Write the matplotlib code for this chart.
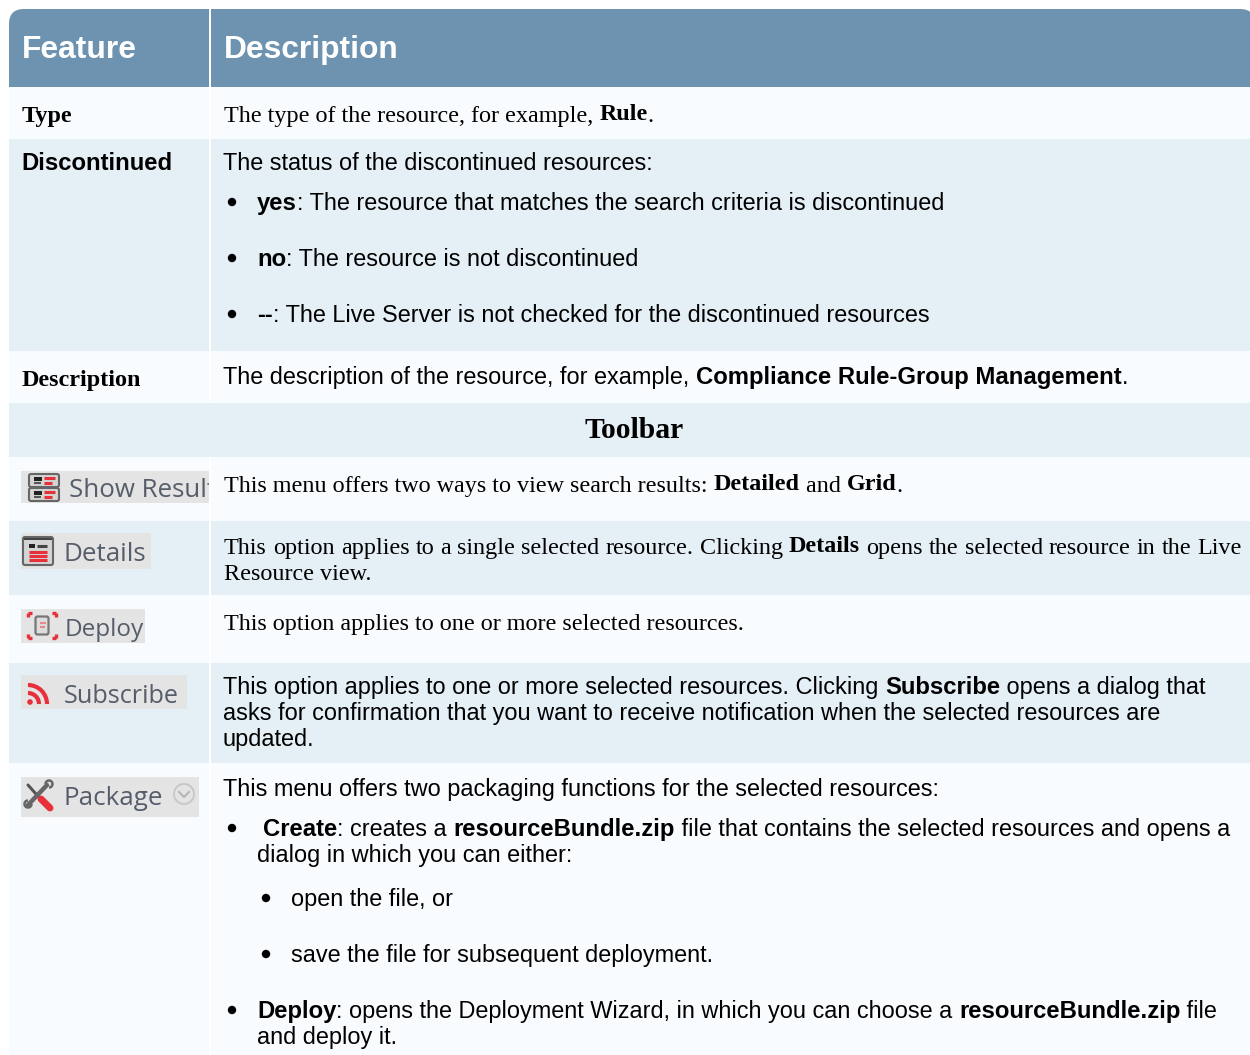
import matplotlib

matplotlib.use("Agg")
import matplotlib.pyplot as plt
from matplotlib.patches import Arc, Circle, FancyBboxPatch, Rectangle

W, H = 1250, 1055
SANS = "Liberation Sans"
SERIF = "Liberation Serif"
ICON_FONT = "Open Sans"

HEADER_COLOR = "#6D93B0"
LIGHT = "#F8FCFF"
BAND = "#E5EFF6"
DIVIDER = "#FFFFFF"
CHIP = "#E4E4E4"
CHIP_TEXT = "#555D6A"
RED = "#E8303A"
DARK = "#4A4A4A"

# font sizes by family and weight, measured against the reference line widths
SIZES = {
    (SANS, False): 16.88,
    (SANS, True): 17.2,
    (SERIF, False): 17.36,
    (SERIF, True): 17.4,
}

# row edges, top to bottom, with fill
row_edges = [87, 139, 351, 403, 457, 521, 595, 663, 763, 1055]
row_fills = [LIGHT, BAND, LIGHT, BAND, LIGHT, BAND, LIGHT, BAND, LIGHT]

headers = ["Feature", "Description"]

# each line: baseline, x, font, runs of (text, bold, raise)
lines = [
    (122, 22, SERIF, [("Type", True, 0)]),
    (122, 224, SERIF, [("The type of the resource, for example, ", False, 0), ("Rule", True, 2), (".", False, 0)]),
    (170, 21, SANS, [("Discontinued", True, 0)]),
    (170, 223, SANS, [("The status of the discontinued resources:", False, 0)]),
    (210, 257, SANS, [("yes", True, 0), (": The resource that matches the search criteria is discontinued", False, 0)]),
    (266, 257, SANS, [("no", True, 0), (": The resource is not discontinued", False, 0)]),
    (322, 257, SANS, [("--", True, 0), (": The Live Server is not checked for the discontinued resources", False, 0)]),
    (386, 22, SERIF, [("Description", True, 0)]),
    (384, 223, SANS, [("The description of the resource, for example, ", False, 0), ("Compliance Rule-Group Management", True, 0), (".", False, 0)]),
    (492, 224, SERIF, [("This menu offers two ways to view search results: ", False, 0), ("Detailed", True, 2), (" and ", False, 0), ("Grid", True, 2), (".", False, 0)]),
    (580, 224, SERIF, [("Resource view.", False, 0)]),
    (630, 224, SERIF, [("This option applies to one or more selected resources.", False, 0)]),
    (694, 223, SANS, [("This option applies to one or more selected resources. Clicking ", False, 0), ("Subscribe", True, 0), (" opens a dialog that", False, 0)]),
    (720, 223, SANS, [("asks for confirmation that you want to receive notification when the selected resources are", False, 0)]),
    (746, 223, SANS, [("updated.", False, 0)]),
    (796, 223, SANS, [("This menu offers two packaging functions for the selected resources:", False, 0)]),
    (836, 263, SANS, [("Create", True, 0), (": creates a ", False, 0), ("resourceBundle.zip", True, 0), (" file that contains the selected resources and opens a", False, 0)]),
    (862, 257, SANS, [("dialog in which you can either:", False, 0)]),
    (906, 291, SANS, [("open the file, or", False, 0)]),
    (962, 291, SANS, [("save the file for subsequent deployment.", False, 0)]),
    (1018, 257, SANS, [("Deploy", True, 0), (": opens the Deployment Wizard, in which you can choose a ", False, 0), ("resourceBundle.zip", True, 0), (" file", False, 0)]),
    (1044, 257, SANS, [("and deploy it.", False, 0)]),
]

# justified line in the Details row
justified_line = (554, 224, 1242, SERIF, [("This option applies to a single selected resource. Clicking", False, 0), ("Details", True, 2), ("opens the selected resource in the Live", False, 0)])

# bullets: x, y, radius
bullets = [(232, 202, 4.2), (232, 258, 4.2), (232, 314, 4.2), (232, 828, 4.2), (266, 898, 4.2), (266, 954, 4.2), (232, 1010, 4.2)]

# toolbar chips: label, chip left/right/top/bottom, label x, baseline, size
chips = [
    ("Show Results", 21, 209, 471, 503, 69, 497, 18.6),
    ("Details", 21, 151, 533, 569, 64, 561, 18.7),
    ("Deploy", 21, 145, 609, 643, 65, 636, 17.5),
    ("Subscribe", 21, 187, 675, 709, 64, 703, 18.2),
    ("Package", 21, 199, 777, 817, 64, 805, 18.7),
]

fig = plt.figure(figsize=(W / 100, H / 100), dpi=100, facecolor="white")
ax = fig.add_axes([0, 0, 1, 1])
ax.set_xlim(0, W)
ax.set_ylim(H, 0)
ax.axis("off")
renderer = fig.canvas.get_renderer()


def text_width(s, family, bold, size):
    # padded with x so that edge spaces are counted
    pad = ax.text(0, 0, "xx", family=family, fontsize=size, fontweight="bold" if bold else "normal")
    full = ax.text(0, 0, "x" + s + "x", family=family, fontsize=size, fontweight="bold" if bold else "normal")
    w = full.get_window_extent(renderer).width - pad.get_window_extent(renderer).width
    pad.remove()
    full.remove()
    return w


def put(x, y, s, family, bold, size, color="black"):
    ax.text(x, y, s, family=family, fontsize=size, fontweight="bold" if bold else "normal",
            color=color, ha="left", va="baseline")


def draw_runs(y, x, family, runs):
    for s, bold, lift in runs:
        size = SIZES[(family, bold)]
        put(x, y - lift, s, family, bold, size)
        x += text_width(s, family, bold, size)


def draw_justified(y, x0, x1, family, runs):
    words = []
    for s, bold, lift in runs:
        size = SIZES[(family, bold)]
        words += [(w, bold, lift, size, text_width(w, family, bold, size)) for w in s.split()]
    gap = (x1 - x0 - sum(w[4] for w in words)) / (len(words) - 1)
    x = x0
    for w, bold, lift, size, width in words:
        put(x, y - lift, w, family, bold, size)
        x += width + gap


# background
ax.add_patch(FancyBboxPatch((9 + 15, 9 + 15), 1255 - 9 - 30, 40, boxstyle="round,pad=15,rounding_size=15",
                            fc=HEADER_COLOR, ec="none"))
ax.add_patch(Rectangle((9, 40), W - 9 + 10, 47, fc=HEADER_COLOR, ec="none"))
top = row_edges[0]
for i, fill in enumerate(row_fills):
    bottom = row_edges[i + 1]
    ax.add_patch(Rectangle((9, top), W - 9, bottom - top, fc=fill, ec="none"))
    top = bottom

# column divider, broken at the Toolbar row
ax.plot([210, 210], [9, row_edges[3]], color=DIVIDER, lw=1.44, solid_capstyle="butt")
ax.plot([210, 210], [row_edges[4], H], color=DIVIDER, lw=1.44, solid_capstyle="butt")

# header
put(21.5, 58, headers[0], SANS, True, 22.9, "white")
put(223.5, 58, headers[1], SANS, True, 22.9, "white")

for y, x, family, runs in lines:
    draw_runs(y, x, family, runs)
draw_justified(*justified_line)

ax.text(634, 438, "Toolbar", family=SERIF, fontsize=21.3, fontweight="bold", ha="center", va="baseline")

for bx, by, r in bullets:
    ax.add_patch(Circle((bx, by), r, fc="black", ec="none"))

# chips
for label, x0, x1, y0, y1, tx, base, size in chips:
    chip = Rectangle((x0, y0), x1 - x0, y1 - y0, fc=CHIP, ec="none")
    ax.add_patch(chip)
    t = ax.text(tx, base, label, family=ICON_FONT, fontsize=size, color=CHIP_TEXT, ha="left", va="baseline", clip_on=True)
    t.set_clip_path(chip)


def frame(x0, y0, w, h):
    ax.add_patch(FancyBboxPatch((x0 + 2, y0 + 2), w - 4, h - 4, boxstyle="round,pad=2,rounding_size=2",
                                fc="#D4D4D4", ec="#666666", lw=1.5))


def hline(x0, x1, y, color, lw=2.2):
    ax.plot([x0, x1], [y, y], color=color, lw=lw, solid_capstyle="butt")


# Show Results icon
for y0 in [474, 488]:
    frame(29, y0, 30, 13)
    ax.add_patch(Rectangle((34, y0 + 3), 8, 3.5, fc="#222222", ec="none"))
    hline(44, 55, y0 + 4, RED)
    hline(44, 52, y0 + 8.5, RED)
    hline(34, 41, y0 + 9, "#555555", 1.5)

# Details icon
frame(23, 537, 30, 28)
ax.add_patch(Rectangle((24, 537.5), 28, 2.5, fc="#444444", ec="none"))
ax.add_patch(Rectangle((29, 544), 6, 3.5, fc="#222222", ec="none"))
hline(37, 47, 546, "#444444")
for y in [552, 556, 560]:
    hline(29, 47, y, RED)

# Deploy icon
for cx, sx in [(28, 1), (56, -1)]:
    for cy, sy in [(613, 1), (638, -1)]:
        hline(cx, cx + 4 * sx, cy, RED, 2.4)
        ax.plot([cx, cx], [cy, cy + 4 * sy], color=RED, lw=2.4, solid_capstyle="butt")
ax.add_patch(FancyBboxPatch((37, 618), 10, 15, boxstyle="round,pad=1.5,rounding_size=2", fc="#DDDDDD", ec="#777777", lw=1.6))
hline(40, 46, 623, "#EE8888", 1.5)
hline(40, 45, 627, "#EE8888", 1.5)

# Subscribe icon
ax.add_patch(Circle((30, 702), 2.8, fc=RED, ec="none"))
for r in [11, 19]:
    ax.add_patch(Arc((28, 704), 2 * r, 2 * r, theta1=-90, theta2=0, ec=RED, lw=3.0))

# Package icon
ax.plot([28, 44], [785, 803], color="#555555", lw=2.2, solid_capstyle="round")
ax.plot([41, 50], [799, 808], color=RED, lw=5, solid_capstyle="round")
ax.plot([28, 47], [805, 785], color="#666666", lw=3.2, solid_capstyle="round")
for cx, cy, a1, a2 in [(28, 804, 0, 270), (49, 784, 180, 90)]:
    ax.add_patch(Arc((cx, cy), 7, 7, theta1=a1, theta2=a2, ec="#666666", lw=1.8))

# Package chevron
ax.add_patch(Circle((184, 794), 10, fc="none", ec="#C8C8C8", lw=1.4))
ax.plot([179, 184, 189], [792, 797, 792], color="#B8B8B8", lw=1.6)

fig.savefig("out.png", dpi=100, facecolor="white")
